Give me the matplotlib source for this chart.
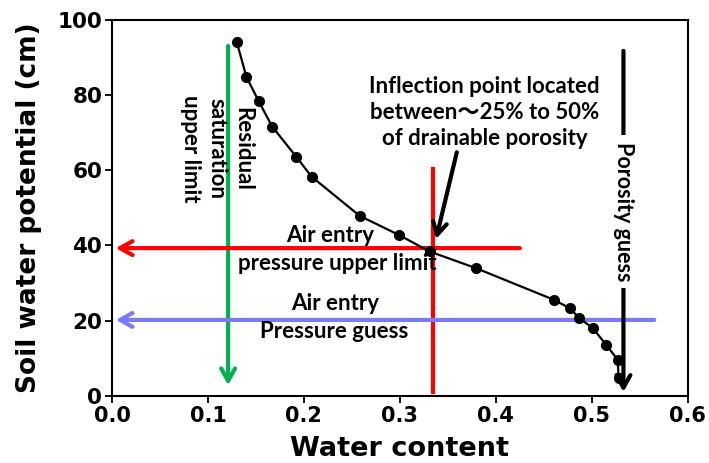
import matplotlib
matplotlib.use("Agg")
import matplotlib.pyplot as plt
import numpy as np

# Data
water_content = [0.130, 0.140, 0.153, 0.167, 0.192, 0.208, 0.258, 0.299, 0.331,
                 0.379, 0.461, 0.477, 0.487, 0.501, 0.515, 0.527, 0.528]
potential = [94.1, 84.9, 78.3, 71.6, 63.6, 58.3, 47.9, 42.8, 38.4,
             34.0, 25.5, 23.3, 20.7, 18.0, 13.6, 9.6, 4.7]

residual_upper = 0.121
air_entry_upper = 39.3
air_entry_guess = 20.2
inflection_x = 0.335
porosity_guess = 0.533

xticks = [0.0, 0.1, 0.2, 0.3, 0.4, 0.5, 0.6]
yticks = [0, 20, 40, 60, 80, 100]

fig = plt.figure(figsize=(7.09, 4.63), dpi=100)
ax = fig.add_axes([0.158, 0.145, 0.812, 0.812])

ax.plot(water_content, potential, '-', color='black', lw=1.6, zorder=3)
ax.plot(water_content, potential, 'o', color='black', ms=7, zorder=4)

ann_font = ['Lato', 'Noto Sans CJK SC', 'DejaVu Sans']
ann_size = 16

# Green arrow (residual saturation upper limit)
ax.annotate('', xy=(residual_upper, 2.1), xytext=(residual_upper, 93.8),
            arrowprops=dict(arrowstyle='->,head_length=0.9,head_width=0.5',
                            color='#00b050', lw=3), zorder=2)
ax.text(0.109, 65.7, 'Residual\nsaturation\nupper limit', rotation=-90,
        ha='center', va='center', fontsize=ann_size, fontweight='bold',
        family=ann_font, linespacing=1.3, zorder=5)

# Red horizontal arrow
ax.annotate('', xy=(0.001, air_entry_upper), xytext=(0.428, air_entry_upper),
            arrowprops=dict(arrowstyle='->,head_length=0.9,head_width=0.5',
                            color='#ff0000', lw=3), zorder=2)
# Red vertical line
ax.plot([inflection_x, inflection_x], [1.0, 60.4], color='#ff0000', lw=3, zorder=2)

# Blue horizontal arrow
ax.annotate('', xy=(0.001, air_entry_guess), xytext=(0.568, air_entry_guess),
            arrowprops=dict(arrowstyle='->,head_length=0.9,head_width=0.5',
                            color='#7b7bf7', lw=3), zorder=2)

# Porosity guess arrow
ax.annotate('', xy=(porosity_guess, 0.3), xytext=(porosity_guess, 92.5),
            arrowprops=dict(arrowstyle='->,head_length=0.9,head_width=0.5',
                            color='black', lw=3), zorder=2)
ax.text(porosity_guess, 49.0, 'Porosity guess', rotation=-90, ha='center',
        va='center', fontsize=15.5, fontweight='bold', family=ann_font,
        bbox=dict(facecolor='white', edgecolor='none', pad=5), zorder=5)

# Text annotations
txt_kw = dict(ha='center', va='baseline', fontsize=ann_size, fontweight='bold',
              family=ann_font, zorder=5)
ax.text(0.2277, 41.0, 'Air entry', **txt_kw)
ax.text(0.235, 33.5, 'pressure upper limit', **txt_kw)
ax.text(0.232, 22.9, 'Air entry', **txt_kw)
ax.text(0.232, 15.4, 'Pressure guess', **txt_kw)
ax.text(0.388, 75.3, 'Inflection point located\nbetween～25% to 50%\nof drainable porosity',
        ha='center', va='center', fontsize=ann_size, fontweight='bold',
        family=ann_font, linespacing=1.3, zorder=5)
ax.annotate('', xy=(0.337, 41.0), xytext=(0.360, 65.5),
            arrowprops=dict(arrowstyle='->,head_length=0.9,head_width=0.5',
                            color='black', lw=3), zorder=6)

ax.set_xlim(0, 0.6)
ax.set_ylim(0, 100)
ax.set_xticks(xticks)
ax.set_yticks(yticks)
ax.set_xticklabels([f'{t:.1f}' for t in xticks], fontsize=15, fontweight='bold')
ax.set_yticklabels([str(t) for t in yticks], fontsize=15.5, fontweight='bold')
ax.tick_params(direction='out', length=5, width=1.3, pad=2)
for s in ax.spines.values():
    s.set_linewidth(1.5)
ax.set_xlabel('Water content', fontsize=19.5, fontweight='bold', labelpad=7.5)
ax.set_ylabel('Soil water potential (cm)', fontsize=19, fontweight='bold')
ax.yaxis.set_label_coords(-0.122, 0.5)

fig.savefig('out.png', dpi=100)
